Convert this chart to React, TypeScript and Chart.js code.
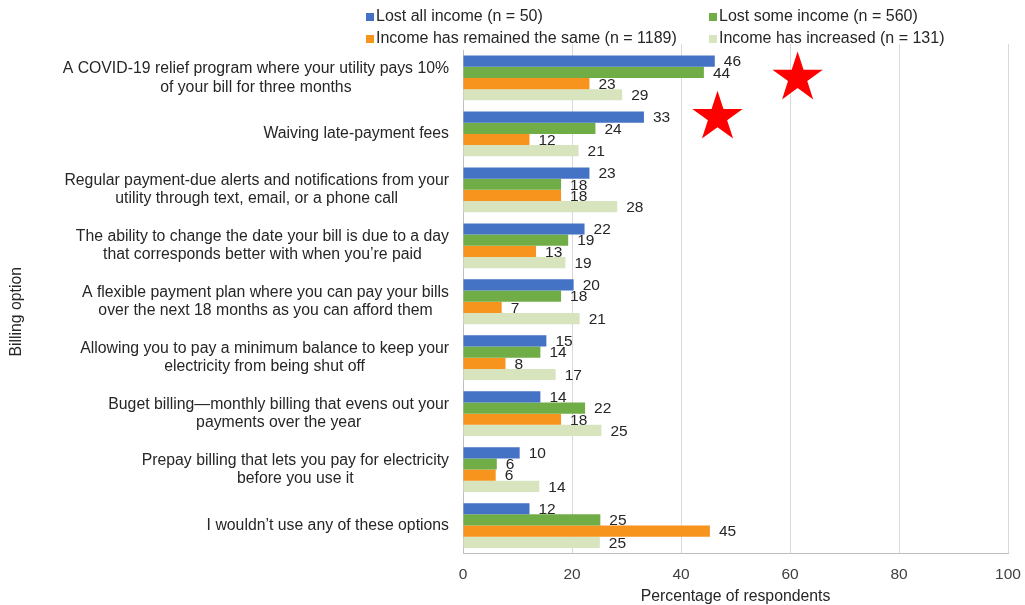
import React, { useEffect, useRef } from 'react';
import { Chart, registerables } from 'chart.js';

Chart.register(...registerables);

// ---------- data ----------
const categories: string[][] = [
  ['A COVID-19 relief program where your utility pays 10%', 'of your bill for three months'],
  ['Waiving late-payment fees'],
  ['Regular payment-due alerts and notifications from your', 'utility through text, email, or a phone call'],
  ['The ability to change the date your bill is due to a day', 'that corresponds better with when you\u2019re paid'],
  ['A flexible payment plan where you can pay your bills', 'over the next 18 months as you can afford them'],
  ['Allowing you to pay a minimum balance to keep your', 'electricity from being shut off'],
  ['Buget billing\u2014monthly billing that evens out your', 'payments over the year'],
  ['Prepay billing that lets you pay for electricity', 'before you use it'],
  ['I wouldn\u2019t use any of these options'],
];

const seriesNames = [
  'Lost all income (n = 50)',
  'Lost some income (n = 560)',
  'Income has remained the same (n = 1189)',
  'Income has increased (n = 131)',
];

const lostAllIncome = [46.2, 33.2, 23.2, 22.3, 20.3, 15.3, 14.2, 10.4, 12.2];
const lostSomeIncome = [44.2, 24.3, 18.0, 19.3, 18.0, 14.2, 22.4, 6.2, 25.2];
const incomeSame = [23.2, 12.2, 18.0, 13.4, 7.1, 7.8, 18.0, 6.0, 45.3];
const incomeIncreased = [29.2, 21.2, 28.3, 18.8, 21.4, 17.0, 25.4, 14.0, 25.1];

const xTickValues = [0, 20, 40, 60, 80, 100];

// star annotations in data coordinates (x = percent, y = category index)
const starMarks = [
  { x: 61.4, y: 0 },
  { x: 46.7, y: 0.7 },
];

const seriesColors = ['#4472C4', '#70AD47', '#F7941D', '#D7E4BD'];

const FONT = '"Liberation Sans", Arial, sans-serif';
const TEXT = '#262626';

// ---------- plugins ----------
const gridExtendPlugin = {
  id: 'gridExtend',
  beforeDatasetsDraw(chart: any) {
    const { ctx, chartArea, scales } = chart;
    const xs = scales.x;
    ctx.save();
    ctx.strokeStyle = '#d9d9d9';
    ctx.lineWidth = 1;
    xTickValues.forEach((v) => {
      if (v === 0) return;
      const px = Math.round(xs.getPixelForValue(v)) + 0.5;
      ctx.beginPath();
      ctx.moveTo(px, chartArea.top - 6);
      ctx.lineTo(px, chartArea.top);
      ctx.stroke();
    });
    ctx.restore();
  },
};

const labelsPlugin = {
  id: 'customLabels',
  afterDraw(chart: any) {
    const { ctx, scales, chartArea } = chart;
    const ys = scales.y;
    ctx.save();
    // category labels: block right-aligned, lines centered in block
    ctx.font = `15.8px ${FONT}`;
    ctx.fillStyle = TEXT;
    ctx.textBaseline = 'middle';
    ctx.textAlign = 'center';
    const rightEdge = chartArea.left - 14;
    const lineH = 18.5;
    categories.forEach((lines, i) => {
      const cy = ys.getPixelForValue(i);
      const w = Math.max(...lines.map((l) => ctx.measureText(l).width));
      const cx = rightEdge - w / 2;
      const startY = cy - ((lines.length - 1) * lineH) / 2;
      lines.forEach((l, k) => ctx.fillText(l, cx, startY + k * lineH));
    });

    // y-axis title
    ctx.save();
    ctx.translate(17, (chartArea.top + chartArea.bottom) / 2 + 10);
    ctx.rotate(-Math.PI / 2);
    ctx.font = `15.8px ${FONT}`;
    ctx.textAlign = 'center';
    ctx.textBaseline = 'middle';
    ctx.fillText('Billing option', 0, 0);
    ctx.restore();

    // data labels
    ctx.font = `15.5px ${FONT}`;
    ctx.textAlign = 'left';
    ctx.textBaseline = 'middle';
    ctx.fillStyle = TEXT;
    chart.data.datasets.forEach((ds: any, di: number) => {
      const meta = chart.getDatasetMeta(di);
      meta.data.forEach((el: any, j: number) => {
        ctx.fillText(String(Math.round(ds.data[j])), el.x + 9, el.y + 1);
      });
    });

    // legend (two columns, two rows)
    const colX = [366, 709];
    const rowY = [17, 39];
    ctx.font = `16px ${FONT}`;
    chart.data.datasets.forEach((ds: any, di: number) => {
      const x = colX[di % 2];
      const y = rowY[Math.floor(di / 2)];
      ctx.fillStyle = ds.backgroundColor;
      ctx.fillRect(x, y - 4, 8, 8);
      ctx.fillStyle = TEXT;
      ctx.fillText(ds.label, x + 10, y);
    });

    // stars
    ctx.fillStyle = '#FF0000';
    const R = 26.5;
    const r = R * 0.382;
    starMarks.forEach((s) => {
      const sx = scales.x.getPixelForValue(s.x);
      const sy = ys.getPixelForValue(s.y);
      ctx.beginPath();
      for (let k = 0; k < 10; k++) {
        const ang = -Math.PI / 2 + (k * Math.PI) / 5;
        const rad = k % 2 === 0 ? R : r;
        const px = sx + rad * Math.cos(ang);
        const py = sy + rad * Math.sin(ang);
        if (k === 0) ctx.moveTo(px, py);
        else ctx.lineTo(px, py);
      }
      ctx.closePath();
      ctx.fill();
    });
    ctx.restore();
  },
};

export default function App() {
  const ref = useRef<HTMLCanvasElement | null>(null);

  useEffect(() => {
    if (!ref.current) return;
    Chart.defaults.font.family = FONT;
    const seriesData = [lostAllIncome, lostSomeIncome, incomeSame, incomeIncreased];
    const chart = new Chart(ref.current, {
      type: 'bar',
      data: {
        labels: categories.map((c) => c.join(' ')),
        datasets: seriesData.map((d, i) => ({
          label: seriesNames[i],
          data: d,
          backgroundColor: seriesColors[i],
          borderWidth: 0,
          barPercentage: 1.0,
          categoryPercentage: 0.8,
        })),
      },
      options: {
        indexAxis: 'y',
        responsive: false,
        animation: false,
        layout: { padding: { top: 50, right: 17, bottom: 0, left: 0 } },
        plugins: {
          legend: { display: false },
          tooltip: { enabled: false },
        },
        scales: {
          x: {
            type: 'linear',
            min: 0,
            max: 100,
            afterBuildTicks: (scale: any) => {
              scale.ticks = xTickValues.map((v) => ({ value: v }));
            },
            afterFit: (scale: any) => {
              scale.height = 51.5;
              scale.paddingLeft = 0;
              scale.paddingRight = 0;
            },
            ticks: {
              color: '#404040',
              font: { size: 15.5, family: FONT },
              padding: 12,
            },
            grid: { color: '#d9d9d9', drawTicks: false },
            border: { color: '#bfbfbf' },
            title: {
              display: true,
              text: 'Percentage of respondents',
              color: TEXT,
              font: { size: 15.8, family: FONT },
              padding: { top: 0, bottom: -1.5 },
            },
          },
          y: {
            type: 'category',
            offset: true,
            ticks: { display: false },
            grid: { display: false },
            border: { color: '#bfbfbf' },
            afterFit: (scale: any) => {
              scale.width = 463;
            },
          },
        },
      },
      plugins: [gridExtendPlugin, labelsPlugin],
    });
    return () => chart.destroy();
  }, []);

  return (
    <div style={{ position: 'absolute', left: 0, top: 0, width: 1025, height: 605, background: '#fff' }}>
      <canvas ref={ref} width={1025} height={605} style={{ display: 'block' }} />
    </div>
  );
}
